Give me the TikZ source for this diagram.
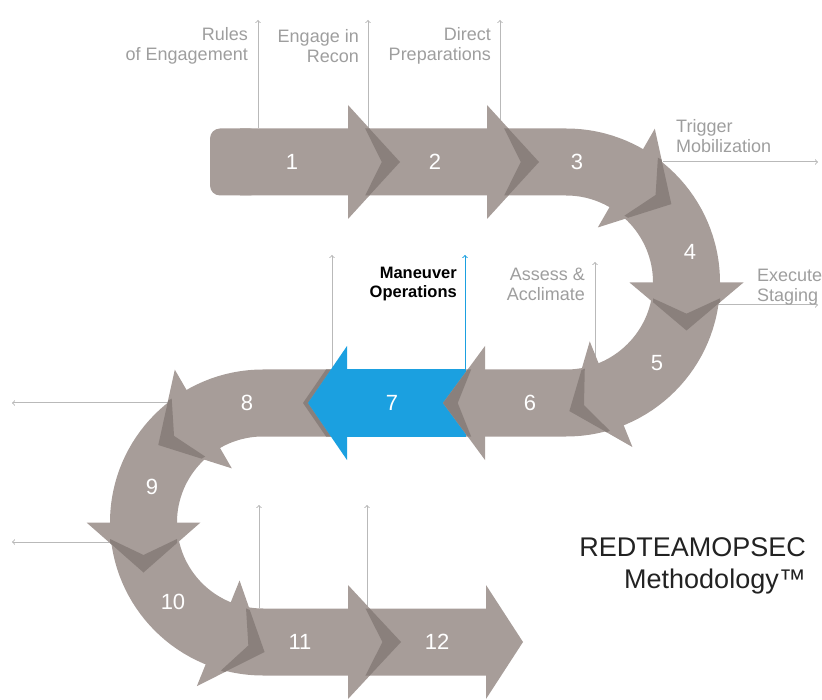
\documentclass[tikz,border=0pt]{standalone}
\usepackage{fontspec}
\setmainfont{Liberation Sans}
\definecolor{band}{RGB}{167,157,153}
\definecolor{bandshade}{RGB}{138,128,124}
\definecolor{stepblue}{RGB}{27,160,224}
\definecolor{labelgrey}{RGB}{158,158,158}
\definecolor{linegrey}{RGB}{185,185,185}
\definecolor{titlegrey}{RGB}{34,34,34}

\begin{document}
\begin{tikzpicture}[x=1pt,y=-1pt,
  lbl/.style={font=\fontsize{18}{20}\selectfont,text=labelgrey,inner sep=0pt},
  num/.style={font=\fontsize{22}{22}\selectfont,text=white},
  guide/.style={line width=1pt,->}]
\useasboundingbox (0,0) rectangle (822,700);
%\draw[help lines,step=50] (0,0) grid (822,700);

% guide lines (behind the band)
\foreach \n/\xa/\ya/\xb/\yb/\c in {rules/258/128/258/20/linegrey, recon/368/128/368/20/linegrey,
    prep/500/128/500/20/linegrey, trig/663/162/818/162/linegrey, exec/700/305/818/305/linegrey,
    assess/595/372/595/262/linegrey, manv/465/369/465/255/stepblue, mid/332/369/332/255/linegrey,
    eight/170/403/12/403/linegrey, nine/120/542/12/542/linegrey,
    botl/259/608/259/505/linegrey, botr/367/608/367/505/linegrey} {
  \coordinate (\n-a) at (\xa,\ya);
  \coordinate (\n-b) at (\xb,\yb);
  \draw[guide,draw=\c] (\n-a) -- (\n-b);
}

% the band
\fill[band,rounded corners=10] (210,128.5) rectangle (260,195.5);
\draw[band,line width=67pt] (240,162) -- (566,162) arc[start angle=-90,end angle=90,radius=120.5]
  -- (263,403) arc[start angle=-90,end angle=-270,radius=119.5] -- (486,642);
\fill[band] (486,585) -- (523,642) -- (486,699) -- cycle;
\fill[stepblue] (347,369.5) rectangle (466,436.5);

% chevron heads
\foreach \x/\y/\a/\l in {348/162/0/52, 487/162/0/52, 626.3/178.1/-30/52, 686.5/282.5/-90/48,
    611.1/394.2/-158/45, 485/403/180/42, 203.3/419/210/52, 143.5/522.5/270/50,
    218.2/633.3/338/50, 348/642/0/53} {
  \begin{scope}[shift={(\x,\y)},rotate=\a]
    \fill[band] (0,57) -- (\l,0) -- (0,-57) -- cycle;
    \fill[bandshade] ({0.33*\l},33.5) -- ({0.41*\l},33.5) -- (\l,0) -- ({0.41*\l},-33.5)
      -- ({0.33*\l},-33.5) -- ({0.65*\l},0) -- cycle;
  \end{scope}
}
\begin{scope}[shift={(347,403)},rotate=180]
  \fill[bandshade] (16,33.5) -- (21,33.5) -- (44,0) -- (21,-33.5) -- (16,-33.5) -- (39,0) -- cycle;
  \fill[stepblue] (0,57) -- (39,0) -- (0,-57) -- cycle;
\end{scope}

% step numbers
\foreach \n/\x/\y in {1/292/162, 2/435/162, 3/577/162, 4/690/252, 5/657/363, 6/530/403,
    7/392/403, 8/247/403, 9/152/487, 10/173/602, 11/300/642, 12/437/642}
  \node[num] (n\n) at (\x,\y) {\n};

% labels
\node[lbl,anchor=east,align=right] (rules) at (248,46) {Rules\\of Engagement};
\node[lbl,anchor=east,align=right] (recon) at (359,46) {Engage in\\Recon};
\node[lbl,anchor=east,align=right] (prep) at (491,46) {Direct\\Preparations};
\node[lbl,anchor=west,align=left] (trig) at (676,136) {Trigger\\Mobilization};
\node[lbl,anchor=west,align=left] (exec) at (757,287) {Execute\\Staging};
\node[lbl,anchor=east,align=right] (assess) at (585,284) {Assess \&\\Acclimate};
\node[lbl,anchor=east,align=right,text=black,font=\fontsize{16.5}{19}\selectfont\bfseries] (manv)
  at (457,284) {Maneuver\\Operations};
\node[anchor=east,align=right,inner sep=0pt,text=titlegrey,font=\fontsize{27}{32}\selectfont] (title)
  at (806,566) {REDTEAMOPSEC\\Methodology™};
\end{tikzpicture}
\end{document}
